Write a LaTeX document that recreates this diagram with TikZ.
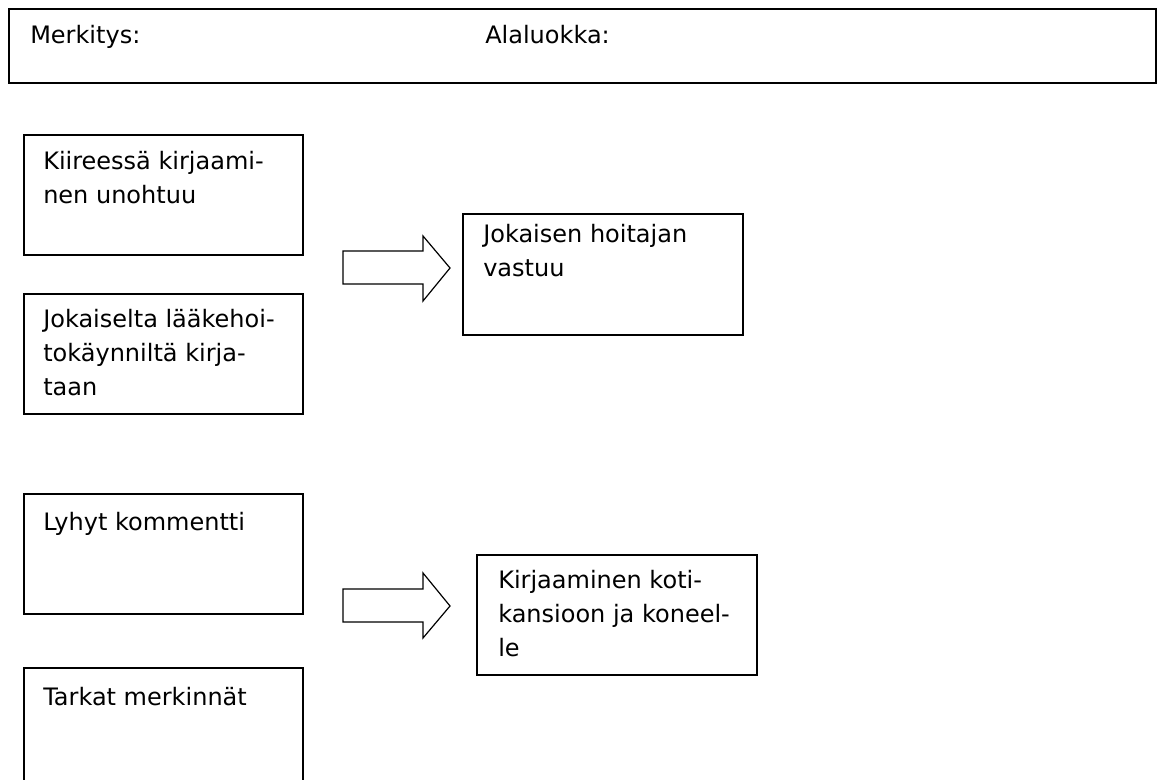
\documentclass[tikz,border=0pt]{standalone}
\usepackage{fontspec}
\setmainfont{DejaVu Sans}
% first-line strut, so that a node placed by its north edge puts the first baseline 18pt lower
\newcommand{\firstline}{\rule{0pt}{18pt}}
\begin{document}
\begin{tikzpicture}[x=0.75pt,y=-0.75pt,
  box/.style={draw=black,line width=1pt,fill=none},
  txt/.style={anchor=north west,inner sep=0pt,align=left,font=\fontsize{18pt}{25.5pt}\selectfont},
  blockarrow/.style={draw=black,line width=0.9pt,fill=white,line join=miter}]
\useasboundingbox (0,0) rectangle (1157,780);
\clip (0,0) rectangle (1157,780);

% header strip
\draw[line width=1.6pt] (9,9) rectangle (1156,83);
\node[txt] (merk) at (30,19) {\firstline Merkitys:};
\node[txt] (ala) at (485,19) {\firstline Alaluokka:};

% first group
\draw[box] (24,135) rectangle (303,255);
\node[txt] (t1) at (43,145) {\firstline Kiireessä kirjaami-\\nen unohtuu};
\draw[box] (24,294) rectangle (303,414);
\node[txt] (t2) at (43,303) {\firstline Jokaiselta lääkehoi-\\tokäynniltä kirja-\\taan};
\draw[blockarrow] (343,251) -- (423,251) -- (423,236) -- (450,268) -- (423,301) -- (423,284) -- (343,284) -- cycle;
\draw[box] (463,214) rectangle (743,335);
\node[txt] (t3) at (483,218) {\firstline Jokaisen hoitajan\\vastuu};

% second group
\draw[box] (24,494) rectangle (303,614);
\node[txt] (t4) at (43,506) {\firstline Lyhyt kommentti};
\draw[box] (24,668) rectangle (303,800);
\node[txt] (t5) at (43,681) {\firstline Tarkat merkinnät};
\draw[blockarrow] (343,589) -- (423,589) -- (423,573) -- (450,606) -- (423,638) -- (423,622) -- (343,622) -- cycle;
\draw[box] (477,555) rectangle (757,675);
\node[txt] (t6) at (498,564) {\firstline Kirjaaminen koti-\\kansioon ja koneel-\\le};
\end{tikzpicture}
\end{document}
